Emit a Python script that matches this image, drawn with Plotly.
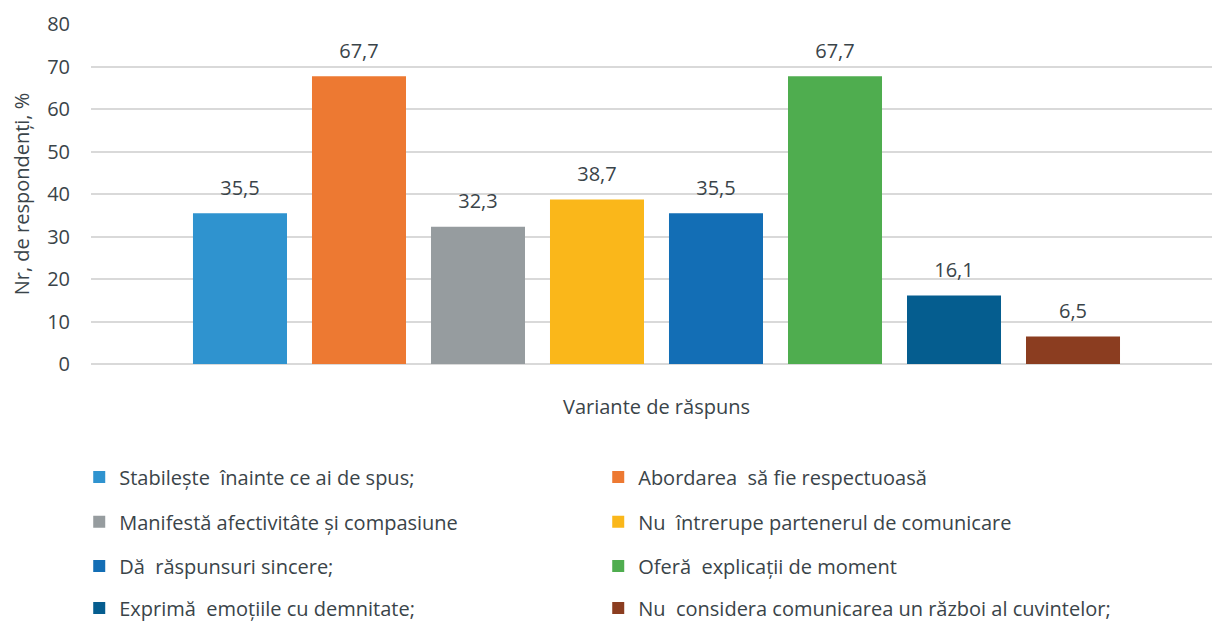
import plotly.graph_objects as go

categories = [
    "Stabilește  înainte ce ai de spus;",
    "Abordarea  să fie respectuoasă",
    "Manifestă afectivitâte și compasiune",
    "Nu  întrerupe partenerul de comunicare",
    "Dă  răspunsuri sincere;",
    "Oferă  explicații de moment",
    "Exprimă  emoțiile cu demnitate;",
    "Nu  considera comunicarea un război al cuvintelor;",
]
values = [35.5, 67.7, 32.3, 38.7, 35.5, 67.7, 16.1, 6.5]
colors = ["#2F93CF", "#ED7932", "#969C9F", "#FAB71A",
          "#136EB5", "#4FAD4F", "#055D8F", "#8B3D20"]
y_ticks = [0, 10, 20, 30, 40, 50, 60, 70, 80]

FONT = "Open Sans"
TXT = "#3a4449"

fig = go.Figure()
legend_names = ["legend", "legend2", "legend3", "legend4"]
for i, (name, val, col) in enumerate(zip(categories, values, colors)):
    fig.add_trace(go.Bar(
        x=[name], y=[val], name=name,
        marker=dict(color=col, line=dict(width=0)),
        width=0.79,
        legend=legend_names[i // 2],
        hoverinfo="skip",
    ))

# data labels
fig.add_trace(go.Scatter(
    x=categories, y=values, mode="markers+text",
    text=[f"{v:.1f}".replace(".", ",") for v in values],
    textposition="top center",
    textfont=dict(family=FONT, size=20, color=TXT),
    marker=dict(size=20, opacity=0),
    showlegend=False, hoverinfo="skip",
))

row_y = [-0.332, -0.464, -0.594, -0.718]
legend_cfg = {}
for k, ln in enumerate(legend_names):
    legend_cfg[ln] = dict(
        orientation="h", x=-0.0105, xanchor="left",
        y=row_y[k], yanchor="middle",
        entrywidth=474, entrywidthmode="pixels",
        font=dict(family=FONT, size=20, color=TXT),
        bgcolor="rgba(0,0,0,0)",
    )

fig.update_layout(
    width=1212, height=623,
    margin=dict(l=91, r=0, t=24, b=259, autoexpand=False),
    paper_bgcolor="white", plot_bgcolor="white",
    barmode="overlay",
    font=dict(family=FONT, size=20, color=TXT),
    xaxis=dict(
        type="category", categoryorder="array", categoryarray=categories,
        range=[-1.252, 8.168], showticklabels=False,
        showgrid=False, zeroline=False, showline=False,
    ),
    yaxis=dict(
        range=[0, 80], tickvals=y_ticks, showgrid=True,
        gridcolor="#D9D9D9", gridwidth=2, zeroline=True,
        zerolinecolor="#D9D9D9", zerolinewidth=2, showline=False,
        tickfont=dict(family=FONT, size=20, color=TXT),
        ticklabelstandoff=20,
        title=dict(text="Nr, de respondenți, %",
                   font=dict(family=FONT, size=20, color=TXT), standoff=12),
    ),
    annotations=[dict(
        text="Variante de răspuns", xref="x", yref="paper",
        x=3.5, y=-0.124, yanchor="middle", showarrow=False,
        font=dict(family=FONT, size=20, color=TXT),
    )],
    **legend_cfg,
)

fig.write_html(
    "out.html",
    config={"displayModeBar": False},
    post_script="document.body.style.margin='0';document.body.style.overflow='hidden';",
)
